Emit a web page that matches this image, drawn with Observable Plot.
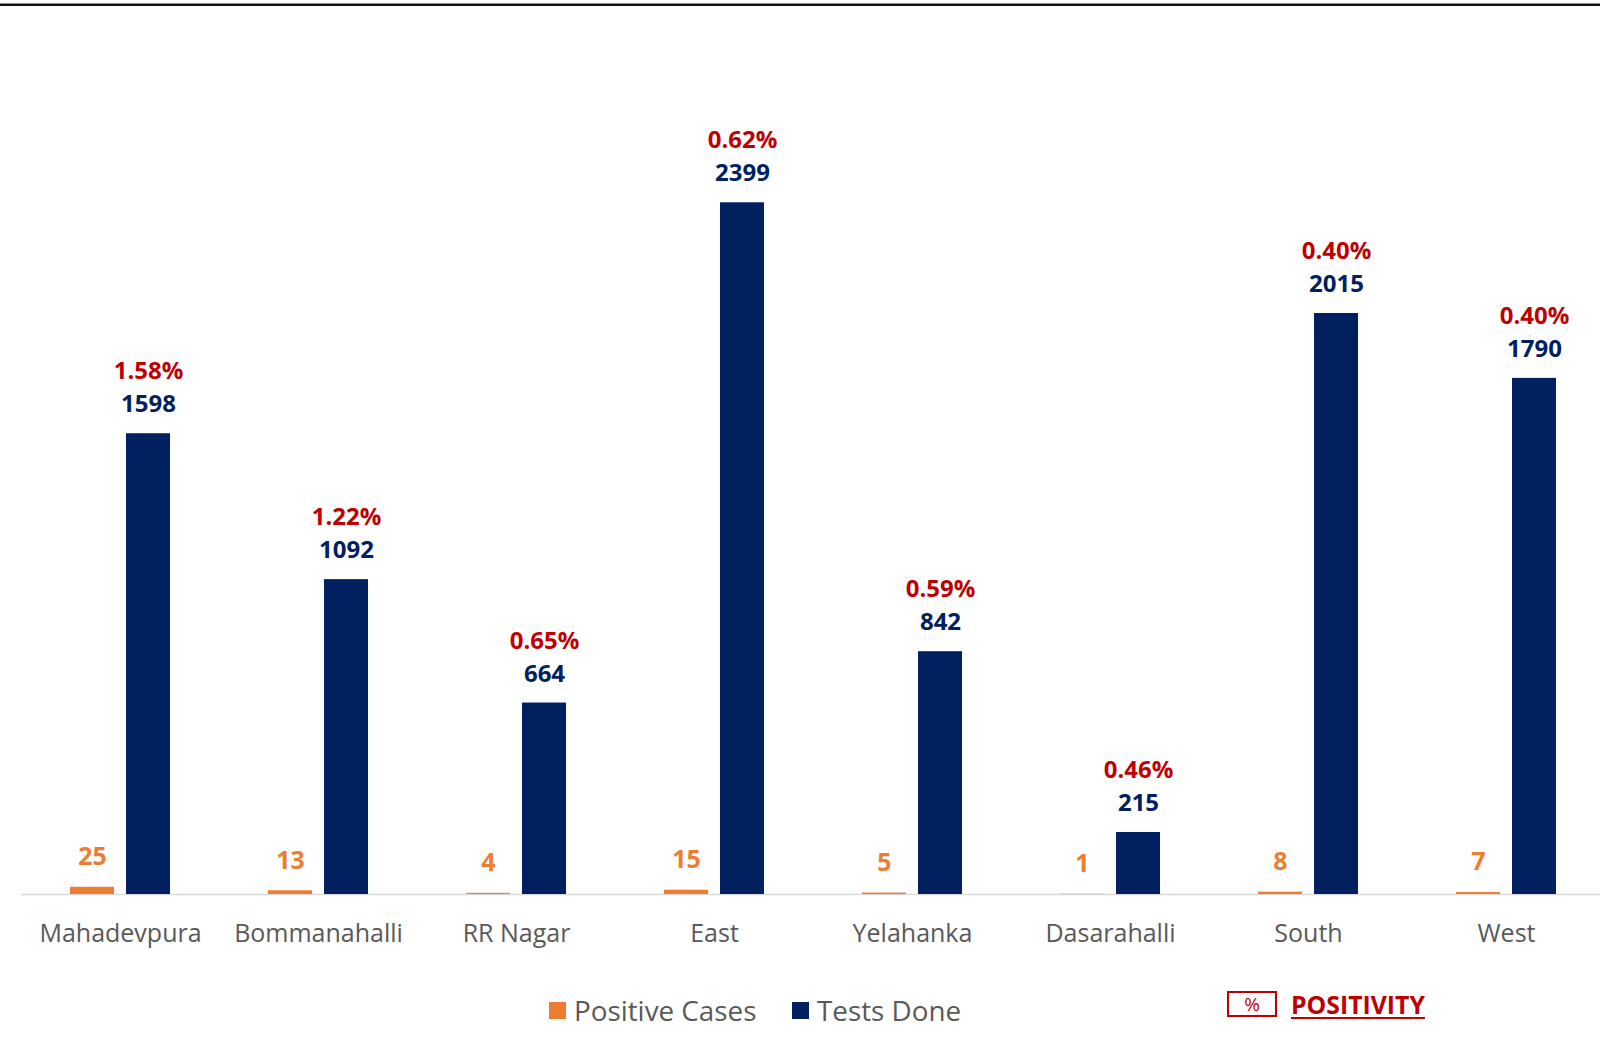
<!DOCTYPE html>
<html>
<head>
<meta charset="utf-8">
<script src="https://cdn.jsdelivr.net/npm/d3@7"></script>
<script src="https://cdn.jsdelivr.net/npm/@observablehq/plot@0.6"></script>
<style>
  html, body { margin: 0; padding: 0; background: #fff; }
  body { width: 1600px; height: 1048px; position: relative; overflow: hidden; font-family: 'Open Sans', sans-serif; }
  #topline { position: absolute; left: 0; top: 3px; width: 1600px; height: 1px; background: #888; border-bottom: 2px solid #111; }
  #chart { position: absolute; left: 0; top: 0; }
  .leg { position: absolute; top: 992px; height: 36px; display: flex; align-items: center; font-size: 27.8px; color: #595959; white-space: nowrap; }
  .sw { display: inline-block; width: 17px; height: 17px; margin-right: 8px; }
  #pbox { position: absolute; left: 1227px; top: 991px; width: 46px; height: 22px; border: 2px solid #C00000; color: #C00000; font-size: 19px; line-height: 23px; text-align: center; }
  #ptext { position: absolute; left: 1291px; top: 986px; color: #C00000; font-size: 24.8px; font-weight: 700; text-decoration: underline; text-decoration-thickness: 2px; text-underline-offset: 3px; line-height: 36px; }
</style>
</head>
<body>
<div id="chart"></div>
<div id="topline"></div>
<div class="leg" style="left:549px"><span class="sw" style="background:#ED7D31"></span>Positive Cases</div>
<div class="leg" style="left:792px"><span class="sw" style="background:#002060"></span>Tests Done</div>
<div id="pbox">%</div>
<div id="ptext">POSITIVITY</div>
<script>
const categories = ["Mahadevpura", "Bommanahalli", "RR Nagar", "East", "Yelahanka", "Dasarahalli", "South", "West"];
const positiveCases = [25, 13, 4, 15, 5, 1, 8, 7];
const testsDone = [1598, 1092, 664, 2399, 842, 215, 2015, 1790];
const positivity = ["1.58%", "1.22%", "0.65%", "0.62%", "0.59%", "0.46%", "0.40%", "0.40%"];

const data = categories.map((c, i) => ({
  cat: c,
  pos: positiveCases[i],
  tests: testsDone[i],
  pct: positivity[i]
}));

const ORANGE = "#ED7D31", NAVY = "#002060", RED = "#C00000";
const FONT = "'Open Sans', sans-serif";

const chart = Plot.plot({
  width: 1600,
  height: 960,
  marginLeft: 21,
  marginRight: 0,
  marginTop: 29,
  marginBottom: 66,
  style: { fontFamily: FONT, color: "#595959", fontSize: "25px", background: "transparent" },
  x: { domain: categories, range: [21, 1605], padding: 0 },
  y: { domain: [0, 3000], axis: null },
  marks: [
    Plot.ruleY([0], { stroke: "#D9D9D9", strokeWidth: 1.5 }),
    Plot.barY(data, { x: "cat", y: "pos", fill: ORANGE, insetLeft: 49, insetRight: 105 }),
    Plot.barY(data, { x: "cat", y: "tests", fill: NAVY, insetLeft: 105, insetRight: 49 }),
    Plot.text(data, { x: "cat", y: "pos", text: d => String(d.pos), dx: -28, dy: -30, fill: ORANGE, fontWeight: "bold", fontSize: 25 }),
    Plot.text(data, { x: "cat", y: "tests", text: d => String(d.tests), dx: 28, dy: -29, fill: NAVY, fontWeight: "bold", fontSize: 24 }),
    Plot.text(data, { x: "cat", y: "tests", text: "pct", dx: 28, dy: -62, fill: RED, fontWeight: "bold", fontSize: 24 }),
    Plot.axisX({ tickSize: 0, tickPadding: 30, fontSize: 25, fill: "#595959", label: null })
  ]
});
document.getElementById("chart").appendChild(chart);
</script>
</body>
</html>
